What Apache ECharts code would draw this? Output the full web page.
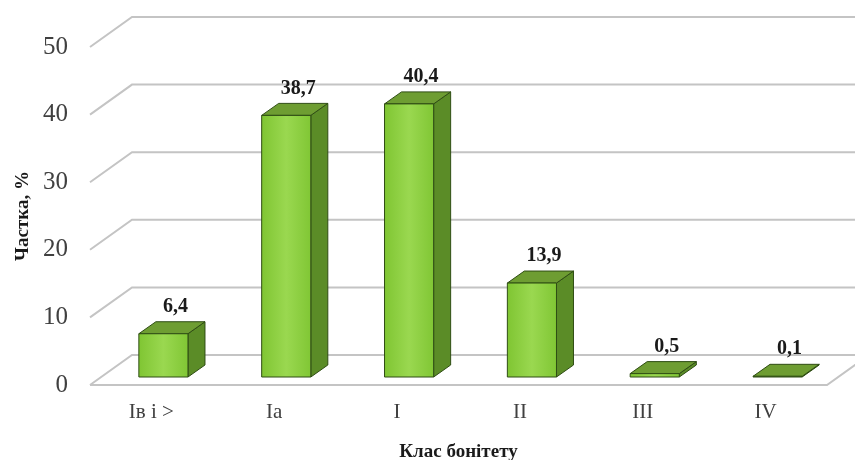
<!DOCTYPE html>
<html>
<head>
<meta charset="utf-8">
<script src="https://cdn.jsdelivr.net/npm/echarts@6/dist/echarts.min.js"></script>
<style>
  html, body { margin: 0; padding: 0; background: #fff; }
  #main { width: 855px; height: 460px; }
</style>
</head>
<body>
<div id="main"></div>
<script>
// data
const categories = ['Ів і >', 'Іа', 'І', 'ІІ', 'ІІІ', 'ІV'];
const shares = [6.4, 38.7, 40.4, 13.9, 0.5, 0.1];
const yTicks = [0, 10, 20, 30, 40, 50];

// fake 3d look (pixels)
const FLOOR_DX = 42, FLOOR_DY = -30;   // depth of floor / back wall
const OFF_X = 12, OFF_Y = -8;          // bars stand a bit behind the front edge
const BAR_DX = 17, BAR_DY = -12;       // bar depth
const FONT = '"Liberation Serif", "Times New Roman", serif';

var chart = echarts.init(document.getElementById('main'));

function renderGrid(params, api) {
    var cs = params.coordSys;
    var v = api.value(1);
    var y = api.coord([0, v])[1];
    var style = { stroke: '#c4c4c4', lineWidth: 2, fill: null };
    var children = [{
        type: 'polyline',
        shape: { points: [[cs.x, y], [cs.x + FLOOR_DX, y + FLOOR_DY], [cs.x + cs.width + FLOOR_DX + 40, y + FLOOR_DY]] },
        style: style
    }];
    if (v === 0) {
        children.push({
            type: 'polyline',
            shape: { points: [[cs.x, y], [cs.x + cs.width, y], [cs.x + cs.width + FLOOR_DX, y + FLOOR_DY]] },
            style: style
        });
    }
    return { type: 'group', children: children };
}

function renderBar(params, api) {
    var i = api.value(0), v = api.value(1);
    var base = api.coord([i, 0]);
    var top = api.coord([i, v]);
    var band = api.size([1, 0])[0];
    var w = band * 0.4;
    var x0 = base[0] - w / 2 + OFF_X;
    var x1 = x0 + w;
    var yb = base[1] + OFF_Y;
    var yt = top[1] + OFF_Y;
    var stroke = '#2f4d14';
    return {
        type: 'group',
        children: [
            {
                type: 'polygon',
                shape: { points: [[x1, yb], [x1 + BAR_DX, yb + BAR_DY], [x1 + BAR_DX, yt + BAR_DY], [x1, yt]] },
                style: { fill: '#5b8c27', stroke: stroke, lineWidth: 1 }
            },
            {
                type: 'polygon',
                shape: { points: [[x0, yt], [x1, yt], [x1 + BAR_DX, yt + BAR_DY], [x0 + BAR_DX, yt + BAR_DY]] },
                style: { fill: '#6e9d32', stroke: stroke, lineWidth: 1 }
            },
            {
                type: 'rect',
                shape: { x: x0, y: yt, width: w, height: yb - yt },
                style: {
                    fill: new echarts.graphic.LinearGradient(0, 0, 1, 0, [
                        { offset: 0, color: '#7fc532' },
                        { offset: 0.5, color: '#9ad850' },
                        { offset: 1, color: '#80c634' }
                    ]),
                    stroke: stroke, lineWidth: 1
                }
            },
            {
                type: 'text',
                style: {
                    x: x0 + w / 2 + 12,
                    y: yt + BAR_DY - 5,
                    text: v.toFixed(1).replace('.', ','),
                    font: 'bold 20px ' + FONT,
                    fill: '#1a1a1a',
                    align: 'center',
                    verticalAlign: 'bottom'
                }
            }
        ]
    };
}

var option = {
    backgroundColor: '#ffffff',
    animation: false,
    grid: { left: 90, right: 28, top: 47, bottom: 75, outerBoundsMode: 'none', containLabel: false },
    xAxis: {
        type: 'category',
        data: categories,
        name: 'Клас бонітету',
        nameLocation: 'middle',
        nameGap: 58,
        nameTextStyle: { fontFamily: FONT, fontWeight: 'bold', fontSize: 19, color: '#1a1a1a' },
        axisLine: { show: false },
        axisTick: { show: false },
        axisLabel: { margin: 17, fontFamily: FONT, fontSize: 21, color: '#404040' }
    },
    yAxis: {
        type: 'value',
        min: 0,
        max: 50,
        interval: 10,
        name: 'Частка, %',
        nameLocation: 'middle',
        nameGap: 56,
        nameTextStyle: { fontFamily: FONT, fontWeight: 'bold', fontSize: 19, color: '#1a1a1a' },
        axisLine: { show: false },
        axisTick: { show: false },
        splitLine: { show: false },
        axisLabel: { margin: 22, fontFamily: FONT, fontSize: 25, color: '#404040' }
    },
    series: [
        {
            type: 'custom',
            z: 1,
            silent: true,
            renderItem: renderGrid,
            data: yTicks.map(function (v) { return [0, v]; })
        },
        {
            type: 'custom',
            z: 2,
            renderItem: renderBar,
            data: shares.map(function (v, i) { return [i, v]; })
        }
    ]
};
chart.setOption(option);
</script>
</body>
</html>
